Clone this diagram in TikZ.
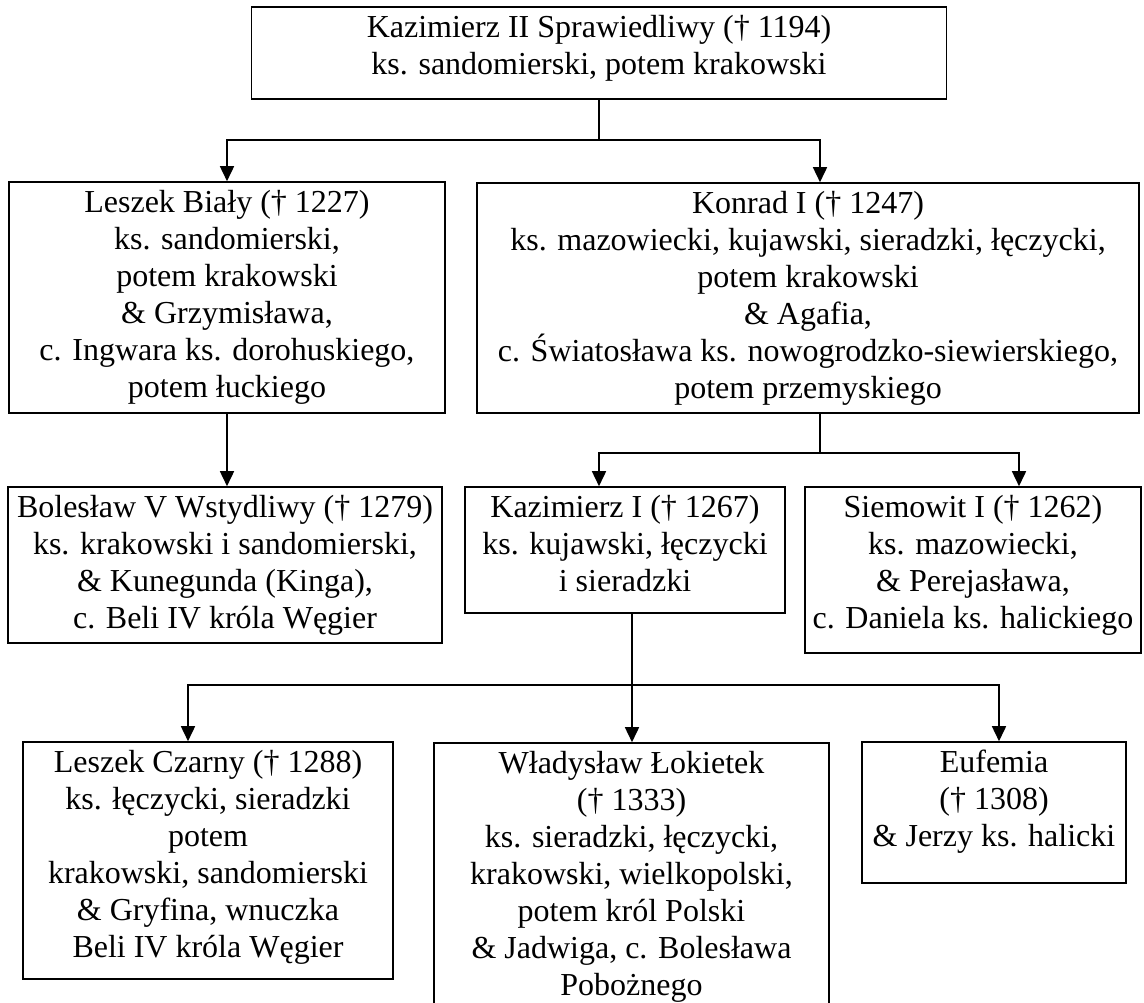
\documentclass[tikz,border=0pt]{standalone}
\usepackage{fontspec}
\setmainfont{Liberation Serif}
\usetikzlibrary{arrows.meta}
\newcommand{\famtext}[3]{\parbox[c][#2][t]{#1}{\centering\rule{0pt}{15pt}#3}}

\begin{document}
\begin{tikzpicture}[x=0.5pt,y=-0.5pt,line width=0.8pt,
  person/.style={draw,inner sep=0pt,font=\fontsize{16}{18.5}\selectfont},
  arr/.style={-{Triangle[width=7pt,length=7.5pt]}}]
\useasboundingbox (0,0) rectangle (1144,1002);
\node[person] (kazII) at (599,53) {\famtext{347.5pt}{46pt}{Kazimierz II Sprawiedliwy († 1194)\\ks. sandomierski, potem krakowski}};
\node[person] (leszekB) at (227,297.5) {\famtext{218pt}{115.5pt}{Leszek Biały († 1227)\\ks. sandomierski,\\potem krakowski\\\& Grzymisława,\\c. Ingwara ks. dorohuskiego,\\potem łuckiego}};
\node[person] (konrad) at (808,298) {\famtext{331pt}{115pt}{Konrad I († 1247)\\ks. mazowiecki, kujawski, sieradzki, łęczycki,\\potem krakowski\\\& Agafia,\\c. Światosława ks. nowogrodzko-siewierskiego,\\potem przemyskiego}};
\node[person] (boleslaw) at (225,565) {\famtext{217pt}{78pt}{Bolesław V Wstydliwy († 1279)\\ks. krakowski i sandomierski,\\\& Kunegunda (Kinga),\\c. Beli IV króla Węgier}};
\node[person] (kazI) at (625,550) {\famtext{160pt}{63pt}{Kazimierz I († 1267)\\ks. kujawski, łęczycki\\i sieradzki}};
\node[person] (siemowit) at (973,570) {\famtext{168pt}{83pt}{Siemowit I († 1262)\\ks. mazowiecki,\\\& Perejasława,\\c. Daniela ks. halickiego}};
\node[person] (leszekC) at (208,860.5) {\famtext{185pt}{118.5pt}{Leszek Czarny († 1288)\\ks. łęczycki, sieradzki\\potem\\krakowski, sandomierski\\\& Gryfina, wnuczka\\Beli IV króla Węgier}};
\node[person] (wladyslaw) at (631.5,877) {\famtext{197.5pt}{134pt}{Władysław Łokietek\\(† 1333)\\ks. sieradzki, łęczycki,\\krakowski, wielkopolski,\\potem król Polski\\\& Jadwiga, c. Bolesława\\Pobożnego}};
\node[person] (eufemia) at (994,812.5) {\famtext{132pt}{70.5pt}{Eufemia\\(† 1308)\\\& Jerzy ks. halicki}};
\coordinate (j1) at (599,140);
\coordinate (j2) at (820,453);
\coordinate (j3) at (632,685);
\draw (kazII.south) -- (j1);
\draw[arr] (j1) -| (leszekB.north);
\draw[arr] (j1) -| ([xshift=6pt]konrad.north);
\draw[arr] (leszekB.south) -- (leszekB.south |- boleslaw.north);
\draw ([xshift=6pt]konrad.south) -- (j2);
\draw[arr] (j2) -| ([xshift=-13pt]kazI.north);
\draw[arr] (j2) -| ([xshift=23pt]siemowit.north);
\draw ([xshift=3.5pt]kazI.south) -- (j3);
\draw[arr] (j3) -| ([xshift=-10pt]leszekC.north);
\draw[arr] (j3) -- (j3 |- wladyslaw.north);
\draw[arr] (j3) -| ([xshift=2.5pt]eufemia.north);
\end{tikzpicture}
\end{document}
